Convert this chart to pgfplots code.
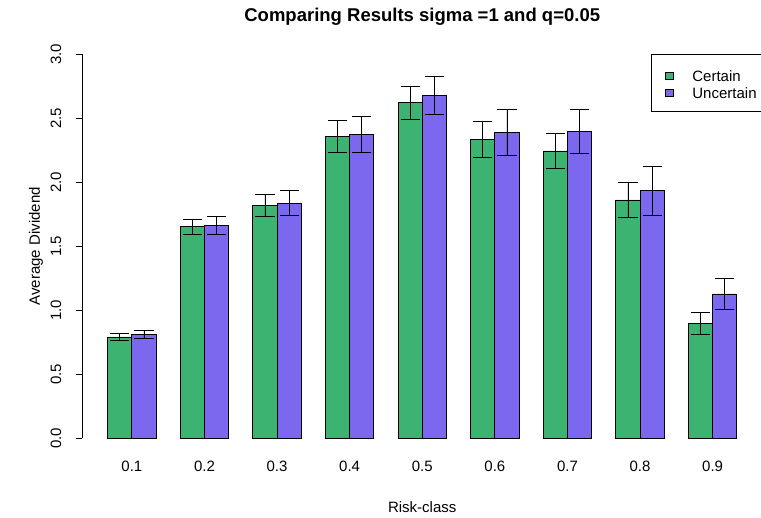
\documentclass[border=0pt]{standalone}
\usepackage{fontspec}
\setmainfont{Liberation Sans}
\usepackage{pgfplots}
\usepackage{pgfplotstable}
\pgfplotsset{compat=1.18}
\definecolor{certain}{HTML}{3CB371}
\definecolor{uncertain}{HTML}{7B68EE}
\pgfplotstableread{
x  c     ce    u     ue
2  0.792 0.027 0.810 0.031
5  1.652 0.057 1.664 0.069
8  1.817 0.085 1.838 0.095
11 2.360 0.124 2.377 0.140
14 2.622 0.130 2.681 0.147
17 2.337 0.140 2.390 0.178
20 2.245 0.140 2.398 0.170
23 1.862 0.135 1.933 0.190
26 0.895 0.085 1.128 0.118
}\data
\begin{document}
\begin{tikzpicture}
\begin{axis}[
  at={(0pt,0pt)}, anchor=south west,
  scale only axis, width=679.5pt, height=384pt,
  xmin=-0.04, xmax=28.04, ymin=0, ymax=3,
  ybar=0pt, bar width=1,
  axis y line*=left, axis x line*=bottom,
  x axis line style={draw=none},
  y axis line style={line width=0.8pt},
  xtick={2,5,8,11,14,17,20,23,26},
  xticklabels={0.1,0.2,0.3,0.4,0.5,0.6,0.7,0.8,0.9},
  xtick style={draw=none},
  ytick={0,0.5,1,1.5,2,2.5,3},
  yticklabels={0.0,0.5,1.0,1.5,2.0,2.5,3.0},
  ytick style={line width=0.8pt, black},
  tick align=outside, major tick length=6pt,
  tick label style={font=\fontsize{15}{18}\selectfont},
  yticklabel style={rotate=90, anchor=south, inner sep=0pt},
  yticklabel shift=15pt,
  xticklabel style={anchor=north, inner sep=0pt},
  xticklabel shift=17pt,
  every axis title shift=0pt,
  title={Comparing Results sigma =1 and q=0.05},
  title style={font=\bfseries\fontsize{18.5}{22}\selectfont, at={(axis description cs:0.5,1.0971)}, anchor=center},
  xlabel={Risk-class},
  xlabel style={font=\fontsize{15}{18}\selectfont, at={(axis description cs:0.5,-0.179)}, anchor=center},
  ylabel={Average Dividend},
  ylabel style={font=\fontsize{15}{18}\selectfont, at={(axis description cs:-0.0684,0.5)}, anchor=center},
  legend style={at={(1,1)}, anchor=north east, draw=black, line width=0.8pt, fill=white,
    inner xsep=3.5pt, inner ysep=13.5pt, row sep=4pt,
    font=\fontsize{15}{18}\selectfont,
    nodes={inner xsep=1.5pt, inner ysep=0pt, text height=13pt, text depth=0pt}},
  legend cell align=left,
  legend image code/.code={
    \path[draw=none, fill=none] (0pt,0pt) -- (35.7pt,0pt);
    \draw[#1, draw=black, line width=0.8pt] (10.5pt,-4.5pt) rectangle (18.5pt,2.5pt);
  },
]
\addplot[fill=certain, draw=black, line width=0.8pt,
  error bars/.cd, y dir=both, y explicit,
  error bar style={line width=0.8pt, black},
  error mark options={rotate=90, black, line width=0.8pt, mark size=9.6pt}]
  table[x=x, y=c, y error=ce] {\data};
\addplot[fill=uncertain, draw=black, line width=0.8pt,
  error bars/.cd, y dir=both, y explicit,
  error bar style={line width=0.8pt, black},
  error mark options={rotate=90, black, line width=0.8pt, mark size=9.6pt}]
  table[x=x, y=u, y error=ue] {\data};
\legend{Certain,Uncertain}
\end{axis}
\pgfresetboundingbox
\useasboundingbox (-82.5pt,-79.7pt) rectangle (678.5pt,438.3pt);
\end{tikzpicture}
\end{document}
